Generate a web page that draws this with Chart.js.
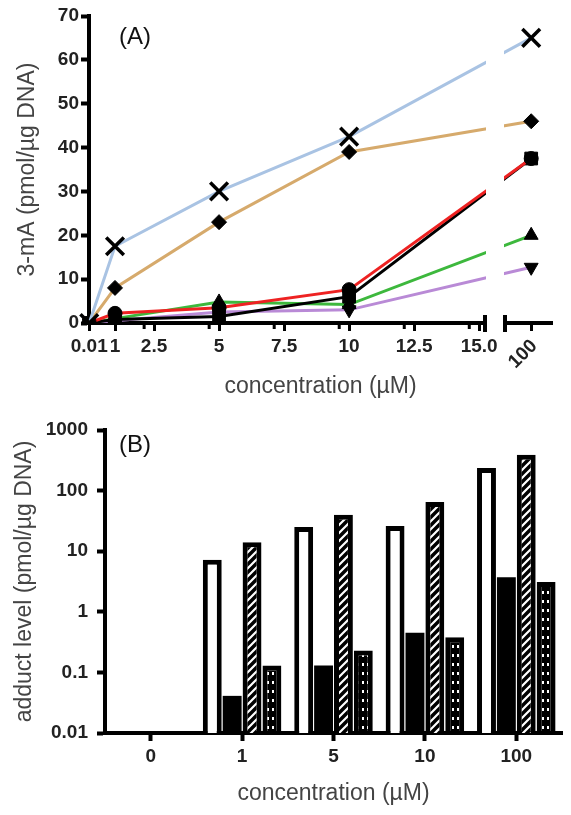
<!DOCTYPE html>
<html>
<head>
<meta charset="utf-8">
<script src="https://cdn.jsdelivr.net/npm/chart.js@4.4.0/dist/chart.umd.min.js"></script>
<style>
  body { margin: 0; background: #fff; }
  #wrapA { position: absolute; left: 0; top: 0; width: 571px; height: 400px; }
  #wrapB { position: absolute; left: 0; top: 400px; width: 571px; height: 415px; }
</style>
</head>
<body>
<div id="wrapA"><canvas id="chartA"></canvas></div>
<div id="wrapB"><canvas id="chartB"></canvas></div>
<script>
// ---- panel A data (3-mA vs concentration)
var concA = [0.01, 1, 5, 10, 100];
var crossVals = [0, 17.5, 30, 42.5, 65];
var diamondVals = [0, 8, 23, 39, 46];
var circleVals = [0, 2.2, 3.5, 7.6, 37.5];
var squareVals = [0, 0.8, 1.5, 6, 37.5];
var triUpVals = [0, 1, 4.8, 4.2, 20];
var triDownVals = [0, 0.5, 2.5, 3, 12.7];
var xTicksA = [0.01, 1, 2.5, 5, 7.5, 10, 12.5, 15, 100];
var xTickLabelsA = ['0.01', '1', '2.5', '5', '7.5', '10', '12.5', '15.0', '100'];

// ---- panel B data (adduct level, log)
var concB = ['0', '1', '5', '10', '100'];
var openBars = [null, 7.2, 25, 26, 235];
var solidBars = [null, 0.041, 0.13, 0.45, 3.7];
var hatchBars = [null, 14, 40, 65, 390];
var dotBars = [null, 0.13, 0.23, 0.38, 3.1];
var yTicksB = [0.01, 0.1, 1, 10, 100, 1000];

var FONT = "'Liberation Sans', Arial, sans-serif";
var tickFont = { family: FONT, size: 19, weight: 'bold' };
var titleFont = { family: FONT, size: 23 };

// broken x axis: 0..15 linear, then a short piece around 100
class BrokenScale extends Chart.LinearScale {
  fwd(v) { return v <= 15 ? v : 17.0 + (v - 100) * 0.02; }
  determineDataLimits() { this.min = 0; this.max = 17.8; }
  buildTicks() { return xTicksA.map(function(v){ return { value: v }; }); }
  getPixelForValue(v) { return v === null ? NaN : super.getPixelForValue(this.fwd(v)); }
  getValueForPixel(p) {
    var d = super.getValueForPixel(p);
    return d <= 15 ? d : 100 + (d - 17.0) / 0.02;
  }
}
BrokenScale.id = 'broken';
BrokenScale.defaults = Chart.LinearScale.defaults;
Chart.register(BrokenScale);

function ds(label, vals, color, style, radius, extra) {
  var d = {
    label: label,
    data: concA.map(function(x, i){ return { x: x, y: vals[i] }; }),
    borderColor: color,
    borderWidth: 3,
    pointStyle: style,
    pointRadius: radius,
    pointBackgroundColor: '#000',
    pointBorderColor: '#000',
    pointBorderWidth: 1,
    tension: 0
  };
  for (var k in extra) d[k] = extra[k];
  return d;
}

var breakPlugin = {
  id: 'breakPlugin',
  afterDatasetsDraw: function(chart) {
    var ctx = chart.ctx, xs = chart.scales.x, ys = chart.scales.y;
    var y0 = ys.getPixelForValue(0);
    ctx.save();
    // gap in lines and axis
    ctx.fillStyle = '#fff';
    ctx.fillRect(486, chart.chartArea.top - 5, 18, y0 - chart.chartArea.top + 12);
    ctx.strokeStyle = '#000';
    ctx.lineWidth = 4;
    ctx.beginPath();
    ctx.moveTo(485, y0 - 8); ctx.lineTo(485, y0 + 9);
    ctx.moveTo(505, y0 - 8); ctx.lineTo(505, y0 + 9);
    ctx.stroke();
    // small extra ticks beside the major ones
    ctx.lineWidth = 3;
    ctx.beginPath();
    [2.5, 5, 7.5, 10, 12.5, 15].forEach(function(v){
      var px = xs.getPixelForValue(v - 0.38);
      ctx.moveTo(px, y0); ctx.lineTo(px, y0 + 6);
    });
    ctx.stroke();
    // rotated 100 label
    var p100 = xs.getPixelForValue(100);
    ctx.translate(p100 + 3, y0 + 20);
    ctx.rotate(-Math.PI / 4);
    ctx.font = 'bold 19px ' + FONT;
    ctx.fillStyle = '#222';
    ctx.textAlign = 'right';
    ctx.textBaseline = 'middle';
    ctx.fillText('100', 0, 0);
    ctx.restore();
    ctx.save();
    ctx.font = '24px ' + FONT;
    ctx.fillStyle = '#111';
    ctx.textAlign = 'center';
    ctx.textBaseline = 'middle';
    ctx.fillText('(A)', 135, 37);
    ctx.restore();
  }
};

new Chart(document.getElementById('chartA'), {
  type: 'line',
  data: {
    datasets: [
      ds('cross', crossVals, '#a9c3e3', 'crossRot', 12.5, { pointBorderWidth: 3.5 }),
      ds('diamond', diamondVals, '#d6aa6c', 'rectRot', 7.5, {}),
      ds('circle', circleVals, '#ee2222', 'circle', 7, {}),
      ds('square', squareVals, '#000000', 'rect', 9, {}),
      ds('triangle up', triUpVals, '#3db83d', 'triangle', 8, {}),
      ds('triangle down', triDownVals, '#b98ad6', 'triangle', 8, { pointRotation: 180 })
    ]
  },
  options: {
    responsive: true,
    maintainAspectRatio: false,
    animation: false,
    layout: { padding: { top: 15, right: 19, left: 0, bottom: 0 } },
    plugins: { legend: { display: false }, tooltip: { enabled: false } },
    scales: {
      x: {
        type: 'broken',
        afterFit: function(s){ s.height = 77; },
        border: { display: true, color: '#000', width: 4 },
        grid: { display: true, drawOnChartArea: false, tickLength: 8, tickWidth: 3, color: '#000' },
        ticks: {
          autoSkip: false, maxRotation: 0, minRotation: 0, padding: 4,
          color: '#222', font: tickFont,
          callback: function(v, i){ return i === xTicksA.length - 1 ? '' : xTickLabelsA[i]; }
        },
        title: { display: true, text: 'concentration (µM)', color: '#444', font: titleFont, padding: 0 }
      },
      y: {
        min: 0, max: 70,
        afterFit: function(s){ s.width = 89; },
        border: { display: true, color: '#000', width: 4 },
        grid: { display: true, drawOnChartArea: false, tickLength: 8, tickWidth: 4, color: '#000' },
        ticks: { stepSize: 10, padding: 2, color: '#222', font: tickFont },
        title: { display: true, text: '3-mA (pmol/µg DNA)', color: '#444', font: titleFont, padding: { top: 14, bottom: 0 } }
      }
    }
  },
  plugins: [breakPlugin]
});

// ---- patterns for panel B
function makeHatch() {
  var c = document.createElement('canvas');
  c.width = 8; c.height = 8;
  var g = c.getContext('2d');
  g.fillStyle = '#000'; g.fillRect(0, 0, 8, 8);
  g.strokeStyle = '#fff'; g.lineWidth = 2.2;
  g.beginPath();
  g.moveTo(-2, 10); g.lineTo(10, -2);
  g.moveTo(-2, 2); g.lineTo(2, -2);
  g.moveTo(6, 10); g.lineTo(10, 6);
  g.stroke();
  return g.createPattern(c, 'repeat');
}
function makeDots() {
  var c = document.createElement('canvas');
  c.width = 5; c.height = 9;
  var g = c.getContext('2d');
  g.fillStyle = '#000'; g.fillRect(0, 0, 5, 9);
  g.fillStyle = '#fff'; g.fillRect(2, 2, 2, 3);
  return g.createPattern(c, 'repeat');
}

var panelLabelB = {
  id: 'panelLabelB',
  afterDraw: function(chart) {
    var ctx = chart.ctx;
    ctx.save();
    ctx.font = '24px ' + FONT;
    ctx.fillStyle = '#111';
    ctx.textAlign = 'center';
    ctx.textBaseline = 'middle';
    ctx.fillText('(B)', 135, 45);
    ctx.restore();
  }
};

function barDs(label, vals, fill, bw) {
  return {
    label: label, data: vals, backgroundColor: fill,
    borderColor: '#000', borderWidth: bw,
    categoryPercentage: 0.87, barPercentage: 0.95
  };
}

new Chart(document.getElementById('chartB'), {
  type: 'bar',
  data: {
    labels: concB,
    datasets: [
      barDs('open', openBars, '#ffffff', 5),
      barDs('solid', solidBars, '#000000', 0),
      barDs('hatched', hatchBars, makeHatch(), 5),
      barDs('dotted', dotBars, makeDots(), 5)
    ]
  },
  options: {
    responsive: true,
    maintainAspectRatio: false,
    animation: false,
    layout: { padding: { top: 30, right: 9, left: 0, bottom: 8 } },
    plugins: { legend: { display: false }, tooltip: { enabled: false } },
    scales: {
      x: {
        afterFit: function(s){ s.height = 74; },
        border: { display: true, color: '#000', width: 4 },
        grid: { display: true, offset: false, drawOnChartArea: false, tickLength: 8, tickWidth: 4, color: '#000' },
        ticks: { padding: 4, color: '#222', font: tickFont },
        title: { display: true, text: 'concentration (µM)', color: '#444', font: titleFont, padding: 0 }
      },
      y: {
        type: 'logarithmic',
        min: 0.01, max: 1000,
        afterFit: function(s){ s.width = 105; },
        afterBuildTicks: function(s){ s.ticks = yTicksB.map(function(v){ return { value: v }; }); },
        border: { display: true, color: '#000', width: 4 },
        grid: { display: true, drawOnChartArea: false, tickLength: 8, tickWidth: 4, color: '#000' },
        ticks: { padding: 9, color: '#222', font: tickFont, callback: function(v){ return String(v); } },
        title: { display: true, text: 'adduct level (pmol/µg DNA)', color: '#444', font: titleFont, padding: { top: 11, bottom: 0 } }
      }
    }
  },
  plugins: [panelLabelB]
});
</script>
</body>
</html>
